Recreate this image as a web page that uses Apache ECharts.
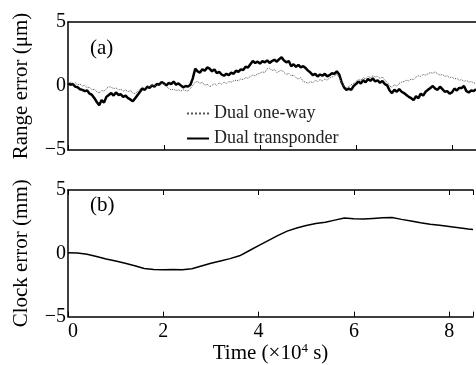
<!DOCTYPE html>
<html>
<head>
<meta charset="utf-8">
<script src="https://cdn.jsdelivr.net/npm/echarts@6/dist/echarts.min.js"></script>
<style>html,body{margin:0;padding:0;background:#fff}#c{width:476px;height:365px}</style>
</head>
<body>
<div id="c"></div>
<script>
// time axis step (x10^4 s) for panel (a)
var tStepA = 0.05;
// Panel (a): Dual transponder range error (um)
var transponder = [
0.20,0.10,0.15,-0.05,-0.10,-0.25,-0.30,-0.40,-0.35,-0.60,
-0.70,-0.95,-1.25,-1.50,-1.10,-1.30,-0.85,-0.70,-0.55,-0.75,
-0.50,-0.70,-0.65,-0.85,-0.75,-0.95,-1.05,-1.20,-0.95,-0.70,
-0.45,-0.20,-0.30,-0.05,-0.15,0.05,-0.05,0.15,0.10,0.30,
0.20,0.05,0.25,0.15,0.35,0.10,0.20,0.05,-0.10,0.00,
-0.05,0.10,0.60,1.35,1.15,1.05,1.30,1.20,1.45,1.35,
1.15,1.30,1.00,1.10,0.90,0.80,0.95,0.85,1.05,0.95,
1.20,1.10,1.30,1.25,1.50,1.45,1.70,1.95,1.80,1.90,
1.75,1.95,1.85,2.00,1.80,1.95,2.05,1.90,2.10,2.25,
2.00,1.85,1.95,1.55,1.70,1.50,1.65,1.45,1.55,1.40,
1.20,1.05,0.85,0.95,0.75,0.90,0.80,0.95,0.75,0.85,
1.00,0.95,1.15,0.90,0.30,-0.10,-0.30,-0.20,-0.30,0.00,
0.15,0.35,0.20,0.45,0.30,0.55,0.40,0.60,0.35,0.45,
0.25,0.40,0.15,0.05,-0.35,-0.55,-0.30,-0.45,-0.25,-0.45,
-0.55,-0.70,-0.85,-0.95,-1.10,-0.80,-0.95,-0.60,-0.75,-0.45,
-0.30,-0.15,0.00,-0.20,-0.30,-0.05,-0.25,-0.45,-0.40,-0.60,
-0.50,-0.20,-0.35,-0.15,-0.15,0.00,-0.40,-0.50,-0.35,-0.40,
-0.25
];
// Panel (a): Dual one-way range error (um)
var oneWay = [
0.25,0.30,0.15,0.25,0.10,0.15,0.00,0.05,-0.15,-0.10,
-0.30,-0.25,-0.45,-0.55,-0.35,-0.40,-0.20,-0.05,-0.10,-0.20,
-0.15,-0.30,-0.25,-0.40,-0.30,-0.45,-0.35,-0.55,-0.60,-0.40,
-0.25,-0.10,-0.20,0.00,-0.10,0.05,0.00,0.10,0.05,0.20,
0.15,-0.05,-0.20,-0.30,-0.25,-0.35,-0.30,-0.40,-0.30,-0.35,
-0.40,-0.20,0.05,0.30,0.35,0.20,0.30,0.05,0.15,-0.05,
0.05,0.20,0.05,0.25,0.15,0.30,0.20,0.35,0.30,0.40,
0.45,0.40,0.55,0.50,0.65,0.60,0.75,0.85,0.80,0.95,
1.00,1.10,1.05,1.35,1.40,1.20,1.30,1.05,1.15,1.25,
1.05,0.90,1.00,0.80,0.85,0.65,0.55,0.65,0.35,0.30,
0.20,0.35,0.25,0.45,0.35,0.50,0.40,0.55,0.45,0.65,
0.70,0.80,0.90,0.70,0.20,0.00,-0.15,-0.05,0.10,0.20,
0.35,0.50,0.45,0.65,0.55,0.75,0.65,0.80,0.70,0.75,
0.60,0.70,0.45,0.30,0.00,-0.10,0.10,0.00,0.20,0.30,
0.35,0.45,0.40,0.55,0.50,0.70,0.80,0.75,0.90,0.85,
0.95,1.05,1.00,1.10,0.95,0.85,0.90,0.75,0.80,0.65,
0.70,0.55,0.60,0.45,0.50,0.35,0.45,0.30,0.35,0.25,
0.20
];
// Panel (b): clock error (mm)
var clockT = [0,0.2,0.4,0.6,0.8,1.0,1.2,1.4,1.6,1.8,2.0,2.2,2.4,2.6,2.8,3.0,3.2,3.4,3.6,3.8,4.0,4.2,4.4,4.6,4.8,5.0,5.2,5.4,5.6,5.8,6.0,6.2,6.4,6.6,6.8,7.0,7.2,7.4,7.6,7.8,8.0,8.2,8.4,8.5];
var clockErr = [0.05,0.02,-0.08,-0.25,-0.45,-0.6,-0.78,-0.98,-1.2,-1.28,-1.3,-1.28,-1.3,-1.22,-1.0,-0.78,-0.6,-0.42,-0.2,0.2,0.6,1.0,1.4,1.75,2.0,2.2,2.35,2.45,2.62,2.78,2.72,2.7,2.75,2.8,2.82,2.68,2.55,2.42,2.3,2.22,2.12,2.02,1.92,1.88];
var xTicks = [0,2,4,6,8];
var yTicks = [-5,0,5];

function pairs(step, arr){ return arr.map(function(v,i){ return [+(i*step).toFixed(2), v]; }); }
function pairsXY(xs, ys){ return xs.map(function(x,i){ return [x, ys[i]]; }); }

var FONT = 'Liberation Serif';
var lineCol = '#000';
function xAx(grid, pos, opts){
  return Object.assign({
    type:'value', gridIndex:grid, position:pos, min:0, max:8.5, interval:2,
    axisLine:{show:true, onZero:false, lineStyle:{color:lineCol,width:1.5}},
    axisTick:{show:false, inside:true, length:5, lineStyle:{color:lineCol,width:1}},
    axisLabel:{show:false},
    splitLine:{show:false}
  }, opts);
}
function yAx(grid, name){
  return {
    type:'value', gridIndex:grid, min:-5, max:5, interval:5,
    name:name, nameLocation:'middle', nameGap:36, nameRotate:90,
    nameTextStyle:{fontFamily:FONT, fontSize:21, color:'#000'},
    axisLine:{show:true, onZero:false, lineStyle:{color:lineCol,width:1.5}},
    axisTick:{show:false},
    axisLabel:{fontFamily:FONT, fontSize:20, color:'#000', margin:2,
      formatter:function(v){ return v<0 ? '\u2212'+(-v) : ''+v; }},
    splitLine:{show:false}
  };
}
var xFmt = function(v){ return xTicks.indexOf(v)>=0 ? ''+v : ''; };

var option = {
  animation:false,
  backgroundColor:'#fff',
  grid:[
    {left:68, top:22, width:410, height:128},
    {left:68, top:190, width:410, height:127}
  ],
  title:[
    {text:'(a)', left:90, top:38, padding:0, textStyle:{fontFamily:FONT, fontSize:21, fontWeight:'normal', color:'#000'}},
    {text:'(b)', left:90, top:195, padding:0, textStyle:{fontFamily:FONT, fontSize:21, fontWeight:'normal', color:'#000'}}
  ],
  legend:{
    orient:'vertical', left:186, top:104, padding:0, itemWidth:22, itemHeight:14, itemGap:6,
    itemStyle:{opacity:0, borderWidth:0},
    textStyle:{fontFamily:FONT, fontSize:18, color:'#222', lineHeight:19},
    data:['Dual one-way','Dual transponder']
  },
  xAxis:[
    xAx(0,'bottom',{axisTick:{show:true, inside:true, length:5, lineStyle:{color:lineCol,width:1}}}),
    xAx(0,'top',{}),
    xAx(1,'bottom',{axisTick:{show:true, inside:true, length:5, lineStyle:{color:lineCol,width:1}},
      axisLabel:{show:true, fontFamily:FONT, fontSize:20, color:'#000', margin:5, formatter:xFmt, alignMinLabel:'left'},
      name:'{a|Time (\u00d710}{s|4}{a| s)}', nameLocation:'middle', nameGap:24,
      nameTextStyle:{rich:{a:{fontFamily:FONT, fontSize:21, color:'#000', lineHeight:22},
                           s:{fontFamily:FONT, fontSize:13, color:'#000', verticalAlign:'top', lineHeight:22}}}}),
    xAx(1,'top',{axisTick:{show:true, inside:true, length:5, lineStyle:{color:lineCol,width:1}}})
  ],
  yAxis:[ yAx(0,'Range error (\u03bcm)'), yAx(1,'Clock error (mm)') ],
  series:[
    {name:'Dual one-way', type:'line', xAxisIndex:0, yAxisIndex:0, symbol:'none', data:pairs(tStepA, oneWay),
      lineStyle:{color:'#555', width:1, type:'dotted'}, itemStyle:{color:'#555'}, z:3},
    {name:'Dual transponder', type:'line', xAxisIndex:0, yAxisIndex:0, symbol:'none', data:pairs(tStepA, transponder),
      lineStyle:{color:'#000', width:2.5}, itemStyle:{color:'#000'}, z:2},
    {name:'Clock', type:'line', xAxisIndex:2, yAxisIndex:1, symbol:'none', data:pairsXY(clockT, clockErr),
      lineStyle:{color:'#000', width:1.5}, itemStyle:{color:'#000'}}
  ]
};
var chart = echarts.init(document.getElementById('c'), null, {renderer:'canvas'});
chart.setOption(option);
</script>
</body>
</html>
